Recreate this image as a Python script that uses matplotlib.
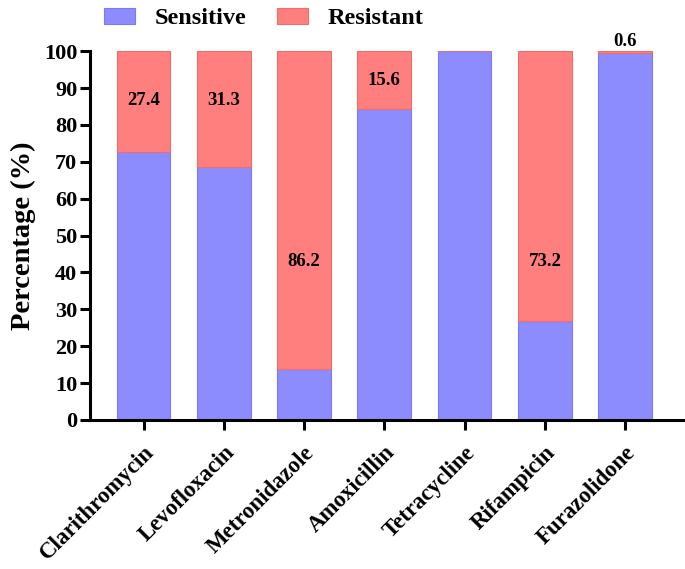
import matplotlib
matplotlib.use("Agg")
import matplotlib.pyplot as plt
import numpy as np

plt.rcParams['font.family'] = ['Liberation Serif', 'DejaVu Serif']
plt.rcParams['font.weight'] = 'bold'

categories = ["Clarithromycin", "Levofloxacin", "Metronidazole", "Amoxicillin",
              "Tetracycline", "Rifampicin", "Furazolidone"]
resistant = [27.4, 31.3, 86.2, 15.6, 0.0, 73.2, 0.6]
sensitive = [100 - r for r in resistant]
yticks = list(range(0, 101, 10))
# vertical positions of the value annotations (None = no label)
label_y = [86.5, 86.5, 43.0, 92.0, None, 43.0, 100.3]

fig = plt.figure(figsize=(6.85, 5.69), dpi=100)
ax = fig.add_axes([0.131, 0.262, 0.866, 0.648])

x = np.arange(len(categories))
w = 0.67
c_sens = "#8C8CFF"
c_res = "#FF7F7F"
ax.bar(x, sensitive, w, color=c_sens, edgecolor="#7B7BF0", linewidth=0.8, label="Sensitive")
ax.bar(x, resistant, w, bottom=sensitive, color=c_res, edgecolor="#F06C6C", linewidth=0.8, label="Resistant")

for xi, r, ly in zip(x, resistant, label_y):
    if ly is None:
        continue
    if ly >= 100:
        ax.text(xi, ly, f"{r}", ha="center", va="bottom", fontsize=13.5, fontweight="bold")
    else:
        ax.text(xi, ly, f"{r}", ha="center", va="center", fontsize=13.5, fontweight="bold")

ax.set_xlim(-0.67, 6.72)
ax.set_ylim(0, 100)
ax.set_yticks(yticks)
ax.set_yticklabels([str(t) for t in yticks], fontsize=16, fontweight="bold")
ax.set_xticks(x)
ax.set_xticklabels(categories, rotation=45, ha="right", rotation_mode="anchor",
                   fontsize=16.5, fontweight="bold")
ax.set_ylabel("Percentage (%)", fontsize=20.5, fontweight="bold", labelpad=6)

for s in ["top", "right"]:
    ax.spines[s].set_visible(False)
for s in ["left", "bottom"]:
    ax.spines[s].set_linewidth(2.2)
ax.tick_params(axis="both", width=2.2, length=7, direction="out")
ax.tick_params(axis="y", pad=2)
ax.tick_params(axis="x", pad=9)

fig.legend(loc="upper left", bbox_to_anchor=(0.120, 1.025), ncol=2, frameon=False,
           prop={"size": 17.5, "weight": "bold"}, handlelength=1.28, handleheight=0.65,
           columnspacing=1.25, handletextpad=0.8)

fig.savefig("out.png", dpi=100)
